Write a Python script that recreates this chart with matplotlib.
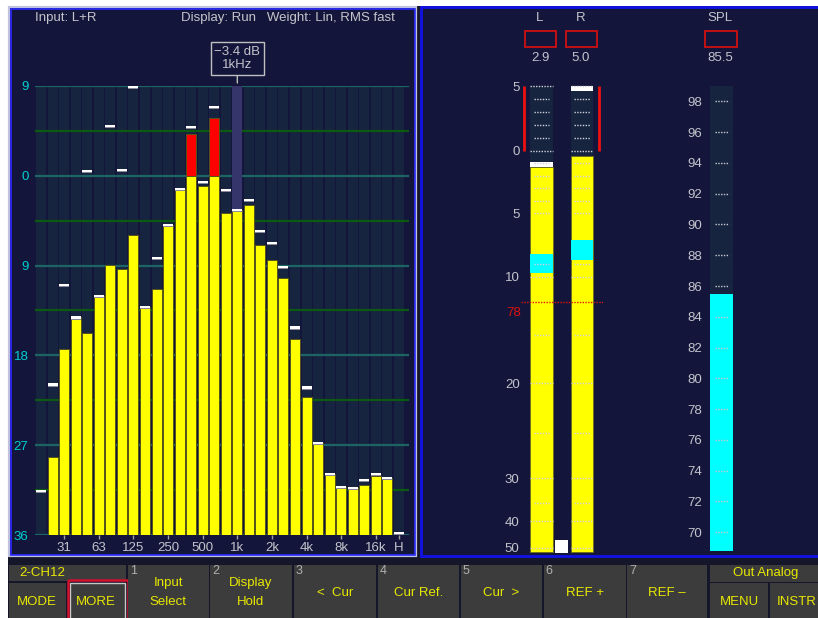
import numpy as np
import matplotlib
matplotlib.use("Agg")
import matplotlib.pyplot as plt
from matplotlib.patches import Rectangle

W, H = 818, 618

# 1/3 octave spectrum, dB (nan = no bar)
bands = ["20", "25", "31", "40", "50", "63", "80", "100", "125", "160", "200",
         "250", "315", "400", "500", "630", "800", "1k", "1.25k", "1.6k", "2k",
         "2.5k", "3.15k", "4k", "5k", "6.3k", "8k", "10k", "12.5k", "16k",
         "20k", "H"]
levels = [np.nan, -28.2, -17.4, -14.2, -15.8, -12.0, -8.9, -9.3, -5.9, -13.1,
          -11.3, -4.9, -1.3, 4.2, -1.0, 5.8, -3.7, -3.4, -2.9, -6.9, -8.4,
          -10.2, -16.4, -22.2, -26.8, -29.9, -31.2, -31.3, -31.0, -30.1, -30.3,
          np.nan]
peaks = [-31.5, -20.8, -10.8, -14.1, 0.6, -11.9, 5.1, 0.7, 9.0, -13.0, -8.1,
         -4.8, -1.2, 5.0, -0.5, 7.0, -1.3, -3.3, -2.3, -5.4, -6.6, -9.0, -15.1,
         -21.1, -26.7, -29.8, -31.1, -31.2, -30.4, -29.8, -30.2, -35.7]
tick_bands = ["31", "63", "125", "250", "500", "1k", "2k", "4k", "8k", "16k", "H"]
db_ticks = [9, 0, -9, -18, -27, -36]
db_tick_labels = ["9", "0", "9", "18", "27", "36"]
cursor_band = "1k"
cursor_db = -3.4

# L / R level meters
lr_names = ["L", "R"]
lr_level = [-1.3, -0.4]
lr_peak = [-0.9, 5.0]
lr_cyan_top = [-8.2, -7.1]
lr_cyan_bot = [-9.7, -8.7]
lr_max = [2.9, 5.0]
lr_ticks = [5, 0, -5, -10, -20, -30, -40, -50]
lr_tick_labels = ["5", "0", "5", "10", "20", "30", "40", "50"]
lr_major = [5, 0, -10, -20, -30, -40, -50]
lr_minor = [4, 3, 2, 1, -1, -2, -3, -4, -5, -9, -15, -25, -35]
ref_db, ref_label = -12.2, "78"

# SPL meter
spl_value = 85.5
spl_ticks = list(range(70, 100, 2))

# softkeys
key_nums = ["1", "2", "3", "4", "5", "6", "7"]
key_texts = ["Input\nSelect", "Display\nHold", "<  Cur", "Cur Ref.", "Cur  >",
             "REF +", "REF \u2013"]

BG = "#13163a"
SLATE = "#172440"
GRAY_TXT = "#c4c4cc"
YEL_TXT = "#e8e800"
FS = 9.5


def px_axes(x0, y0, x1, y1, **kw):
    return fig.add_axes([x0 / W, 1 - y1 / H, (x1 - x0) / W, (y1 - y0) / H], **kw)


plt.rcParams['font.family'] = ['Liberation Sans', 'DejaVu Sans']
fig = plt.figure(figsize=(W / 100, H / 100), dpi=100, facecolor="white")

# ---------- background / frames (pixel coordinates) ----------
bg = px_axes(0, 0, W, H)
bg.set_xlim(0, W)
bg.set_ylim(H, 0)
bg.axis("off")
bg.add_patch(Rectangle((8, 6), W, H, color="#16162a", lw=0))
bg.add_patch(Rectangle((9, 7), 407, 549, facecolor=BG, edgecolor="#c0c0e0", lw=1.6))
bg.add_patch(Rectangle((10.5, 8.5), 404, 546, facecolor="none", edgecolor="#2a2aff", lw=1.2))
bg.add_patch(Rectangle((421, 7), 400, 549, facecolor=BG, edgecolor="#1212e8", lw=2))

bg.text(35, 18, "Input: L+R", color=GRAY_TXT, fontsize=FS, va="center")
bg.text(181, 18, "Display: Run   Weight: Lin, RMS fast", color=GRAY_TXT,
        fontsize=FS, va="center")

# softkey bar
def key(x0, y0, x1, y1):
    bg.add_patch(Rectangle((x0, y0), x1 - x0, y1 - y0, color="#3c3c3c", lw=0))

key(9, 565, 126, 581)
bg.text(42, 573, "2-CH12", color=YEL_TXT, fontsize=FS, ha="center", va="center")
key(9, 583, 66, 618)
bg.text(37, 602, "MODE", color=YEL_TXT, fontsize=FS, ha="center", va="center")
key(70, 583, 124.5, 618)
bg.add_patch(Rectangle((70, 583), 54.5, 36, facecolor="none", edgecolor="#c8c8c8", lw=1))
bg.add_patch(Rectangle((67.5, 580), 60, 40, facecolor="none", edgecolor="#d4102c", lw=1.8))
bg.text(96, 602, "MORE", color=YEL_TXT, fontsize=FS, ha="center", va="center")
edges = [128, 210, 293.5, 377.5, 460.5, 543.5, 627, 708.5]
for i, (n, t) in enumerate(zip(key_nums, key_texts)):
    x0, x1 = edges[i], edges[i + 1] - 1.5
    key(x0, 565, x1, 618)
    bg.text(x0 + 2, 571, n, color="#b0b0b0", fontsize=9, va="center")
    bg.text((x0 + x1) / 2, 592.5, t, color=YEL_TXT, fontsize=FS, ha="center",
            va="center", linespacing=1.7)
key(710, 565, 818, 581.5)
bg.text(766, 573, "Out Analog", color=YEL_TXT, fontsize=FS, ha="center", va="center")
key(710, 583, 768, 618)
bg.text(739, 602, "MENU", color=YEL_TXT, fontsize=FS, ha="center", va="center")
key(770, 583, 818, 618)
bg.text(797, 602, "INSTR", color=YEL_TXT, fontsize=FS, ha="center", va="center")

# ---------- spectrum ----------
ax = px_axes(35.4, 86, 409, 535)
ax.set_facecolor("none")
x = np.arange(len(bands))
lv = np.array(levels)
pk = np.array(peaks)
ax.set_xlim(-0.5, 31.88)
ax.set_ylim(-36, 9)
ax.bar(x, 45, bottom=-36, width=0.87, color=SLATE, zorder=0)
for yv in np.arange(9, -36.1, -4.5):
    teal = (yv % 9 == 0)
    ax.axhline(yv, color="#1d6464" if teal else "#0c5a12", lw=1.6, zorder=1)
ci = bands.index(cursor_band)
ax.bar(ci, 9 - lv[ci], bottom=lv[ci], width=0.87, color="#35356c", zorder=2)
ax.bar(x, np.minimum(lv, 0) + 36, bottom=-36, width=0.87, color="#ffff00",
       edgecolor="#55551a", lw=0.7, zorder=3)
over = np.where(lv > 0, lv, np.nan)
ax.bar(x, over, bottom=0, width=0.87, color="#ff0000", edgecolor="#55551a",
       lw=0.7, zorder=3)
ax.bar(x, 0.22, bottom=pk - 0.32, width=0.87, color="#8a8a9a", zorder=4)
ax.bar(x, 0.22, bottom=pk - 0.22, width=0.87, color="white", zorder=5)
ax.annotate(f"\u2212{abs(cursor_db):.1f} dB\n{cursor_band}Hz",
            xy=(ci, 9.3), xytext=(ci, 11.75), textcoords="data",
            ha="center", va="center", color=GRAY_TXT, fontsize=FS,
            annotation_clip=False, linespacing=1.15,
            bbox=dict(boxstyle="square,pad=0.28", fc=BG, ec="#c0c0c0", lw=1),
            arrowprops=dict(arrowstyle="-", color="#c0c0c0", lw=1,
                            shrinkA=0, shrinkB=0))
for s in ax.spines.values():
    s.set_visible(False)
ax.set_yticks(db_ticks, db_tick_labels)
ax.tick_params(axis="y", length=0, pad=5, labelcolor="#00d0d0", labelsize=FS)
ax.set_xticks([bands.index(b) for b in tick_bands], tick_bands)
ax.tick_params(axis="x", length=3, width=1, color="#a0a0a0", pad=2,
               labelcolor=GRAY_TXT, labelsize=FS)

# ---------- L / R meter ----------
meter_db = np.array([-52, -50, -40, -35, -30, -25, -20, -15, -10, -5, 0, 5, 6])
meter_px = np.array([553.5, 548, 521, 503.3, 478, 432.7, 383, 335, 276.7, 213,
                     150.7, 86, 73])


def fwd(d):
    return np.interp(d, meter_db, -meter_px)


def inv(p):
    return np.interp(p, -meter_px, meter_db)


am = px_axes(521, 73, 603, 553.5)
am.set_facecolor("none")
am.set_yscale("function", functions=(fwd, inv))
am.set_ylim(-52, 6)
am.set_xlim(-0.5, 1.516)
xm = np.arange(len(lr_names))
bw = 0.557
am.bar(xm, 5 + 51.5, bottom=-51.5, width=bw, color=SLATE, zorder=0)
am.bar(xm, np.array(lr_level) + 51.5, bottom=-51.5, width=bw, color="#ffff00",
       edgecolor="#6a6a20", lw=0.6, zorder=1)
am.bar(xm, np.array(lr_cyan_top) - np.array(lr_cyan_bot), bottom=lr_cyan_bot,
       width=bw, color="#00ffff", zorder=2)
am.bar(xm, 0.4, bottom=np.array(lr_peak) - 0.4, width=bw, color="white", zorder=2)
for m in xm:
    am.hlines(lr_major, m - bw / 2, m + bw / 2, colors="#d0d0d8", lw=1,
              linestyles=(0, (1, 1)), zorder=3)
    am.hlines(lr_minor, m - bw / 3, m + bw / 3, colors="#d0d0d8", lw=1,
              linestyles=(0, (1, 1)), zorder=3)
am.vlines([-0.42, 1.41], 0, 5, colors="#ee1010", lw=2)
am.axhline(ref_db, color="#e01010", lw=1, ls=(0, (1, 1)))
for s in am.spines.values():
    s.set_visible(False)
am.set_xticks([])
am.set_yticks(lr_ticks, lr_tick_labels)
am.yaxis.set_minor_locator(matplotlib.ticker.NullLocator())
am.tick_params(axis="y", length=0, pad=1, labelcolor=GRAY_TXT, labelsize=FS)
bg.text(521, 313, ref_label, color="#e01010", fontsize=FS, ha="right", va="center")
bg.add_patch(Rectangle((555, 540), 12.7, 12.7, color="white", lw=0))

for name, val, cx in zip(lr_names, lr_max, [540, 581]):
    bg.text(cx, 18, name, color=GRAY_TXT, fontsize=FS, ha="center", va="center")
    bg.add_patch(Rectangle((cx - 15.5, 31), 31.5, 15.5, fc="none", ec="#d01010", lw=1.3))
    bg.text(cx, 58, f"{val:.1f}", color=GRAY_TXT, fontsize=FS, ha="center", va="center")

# ---------- SPL meter ----------
sp = px_axes(710, 86, 733.3, 550.7)
sp.set_facecolor(SLATE)
sp.set_ylim(68.8, 99.0)
sp.set_xlim(0, 1)
sp.bar(0.5, spl_value - 68.8, bottom=68.8, width=1, color="#00ffff")
sp.hlines(spl_ticks, 0.2, 0.8, colors="#c8c8d0", lw=1, linestyles=(0, (1, 1)))
for s in sp.spines.values():
    s.set_visible(False)
sp.set_xticks([])
sp.set_yticks(spl_ticks, [str(v) for v in spl_ticks])
sp.tick_params(axis="y", length=0, pad=6, labelcolor=GRAY_TXT, labelsize=FS)
bg.text(720, 18, "SPL", color=GRAY_TXT, fontsize=FS, ha="center", va="center")
bg.add_patch(Rectangle((705.3, 31), 31.5, 15.5, fc="none", ec="#d01010", lw=1.3))
bg.text(720, 58, f"{spl_value:.1f}", color=GRAY_TXT, fontsize=FS, ha="center", va="center")

fig.savefig("out.png", dpi=100, facecolor="white")
